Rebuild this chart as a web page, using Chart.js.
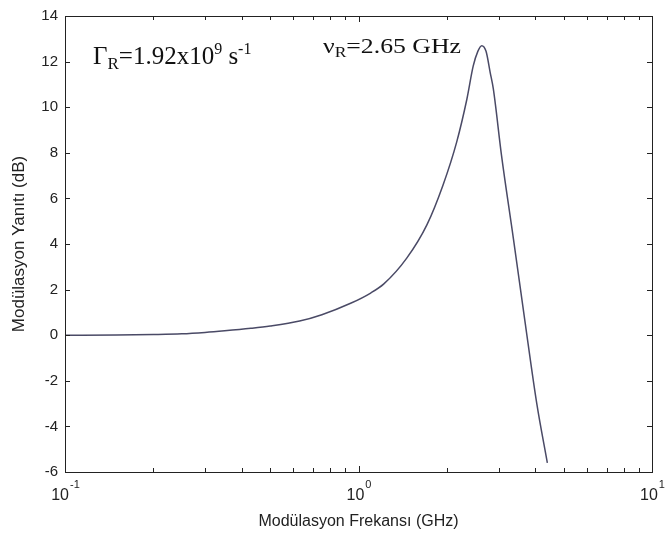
<!DOCTYPE html>
<html>
<head>
<meta charset="utf-8">
<script src="https://cdn.jsdelivr.net/npm/chart.js@4/dist/chart.umd.min.js"></script>
<style>
  html, body { margin: 0; padding: 0; background: #fff; }
  canvas { display: block; }
</style>
</head>
<body>
<canvas id="grafico" width="666" height="538"></canvas>
<script>
// Datos
const frecuenciasGHz = [0.1, 0.15, 0.2, 0.25, 0.3, 0.35, 0.43, 0.5, 0.63, 0.75, 0.94, 1.1, 1.22, 1.46, 1.71, 1.94, 2.16, 2.34, 2.46, 2.55, 2.63, 2.72, 2.81, 2.88, 3.07, 3.37, 3.69, 4.05, 4.4];
const respuestaDb = [0, 0.01, 0.03, 0.06, 0.12, 0.19, 0.3, 0.4, 0.62, 0.9, 1.4, 1.85, 2.25, 3.38, 4.84, 6.58, 8.47, 10.35, 11.81, 12.45, 12.7, 12.45, 11.52, 10.8, 7.9, 4.25, 0.62, -3.0, -5.6];
const ticksY = [-6, -4, -2, 0, 2, 4, 6, 8, 10, 12, 14];
const exponentesX = [-1, 0, 1];
const menoresX = [0.2, 0.3, 0.4, 0.5, 0.6, 0.7, 0.8, 0.9, 2, 3, 4, 5, 6, 7, 8, 9];

const tituloX = 'Modülasyon Frekansı (GHz)';
const tituloY = 'Modülasyon Yanıtı (dB)';

const fuenteEjes = '"Liberation Sans", Arial, sans-serif';
const fuenteSerif = '"Liberation Serif", "Times New Roman", serif';

// Funcion para escribir texto con subindices y superindices
const escribirPartes = (ctx, partes, x, y, escalaX) => {
    ctx.save();
    ctx.translate(x, y);
    ctx.scale(escalaX, 1);
    let cx = 0;
    partes.forEach(p => {
        ctx.font = `${p.size}px ${fuenteSerif}`;
        ctx.fillText(p.t, cx, p.dy || 0);
        cx += ctx.measureText(p.t).width;
    });
    ctx.restore();
}

// Plugin para el marco, las marcas y las anotaciones al estilo MATLAB
const marcoPlugin = {
    id: 'marco',
    afterDraw: (chart) => {
        const ctx = chart.ctx;
        const area = chart.chartArea;
        const ejeX = chart.scales.x;
        const ejeY = chart.scales.y;

        ctx.save();
        ctx.strokeStyle = '#222';
        ctx.lineWidth = 1;
        ctx.strokeRect(area.left + 0.5, area.top + 0.5, area.right - area.left, area.bottom - area.top);

        ctx.beginPath();
        ticksY.forEach(v => {
            const py = Math.round(ejeY.getPixelForValue(v)) + 0.5;
            ctx.moveTo(area.left, py); ctx.lineTo(area.left + 5, py);
            ctx.moveTo(area.right - 5, py); ctx.lineTo(area.right, py);
        });
        exponentesX.forEach(e => {
            const px = Math.round(ejeX.getPixelForValue(Math.pow(10, e))) + 0.5;
            ctx.moveTo(px, area.bottom); ctx.lineTo(px, area.bottom - 6);
            ctx.moveTo(px, area.top); ctx.lineTo(px, area.top + 6);
        });
        menoresX.forEach(v => {
            const px = Math.round(ejeX.getPixelForValue(v)) + 0.5;
            ctx.moveTo(px, area.bottom); ctx.lineTo(px, area.bottom - 4);
            ctx.moveTo(px, area.top); ctx.lineTo(px, area.top + 4);
        });
        ctx.stroke();

        // etiquetas del eje x: 10 con exponente
        ctx.fillStyle = '#222';
        ctx.textBaseline = 'alphabetic';
        ctx.textAlign = 'left';
        exponentesX.forEach(e => {
            const px = ejeX.getPixelForValue(Math.pow(10, e));
            ctx.font = `16px ${fuenteEjes}`;
            const anchoBase = ctx.measureText('10').width;
            ctx.font = `11px ${fuenteEjes}`;
            const anchoExp = ctx.measureText(String(e)).width;
            const x0 = px - (anchoBase + anchoExp) / 2;
            ctx.font = `16px ${fuenteEjes}`;
            ctx.fillText('10', x0, area.bottom + 28);
            ctx.font = `11px ${fuenteEjes}`;
            ctx.fillText(String(e), x0 + anchoBase + 1, area.bottom + 16);
        });

        // anotaciones
        ctx.fillStyle = '#111';
        escribirPartes(ctx, [
            { t: 'Γ', size: 25 },
            { t: 'R', size: 17, dy: 5 },
            { t: '=1.92x10', size: 25 },
            { t: '9', size: 16, dy: -10 },
            { t: ' s', size: 25 },
            { t: '-1', size: 16, dy: -10 }
        ], 93, 64, 1);
        escribirPartes(ctx, [
            { t: 'ν', size: 22 },
            { t: 'R', size: 15, dy: 4 },
            { t: '=2.65 GHz', size: 22 }
        ], 323, 53, 1.17);
        ctx.restore();
    }
};

// Funcion para crear el grafico
const crearGrafico = () => {
    const ctx = document.getElementById('grafico').getContext('2d');
    const puntos = frecuenciasGHz.map((f, i) => ({ x: f, y: respuestaDb[i] }));

    new Chart(ctx, {
        type: 'scatter',
        data: {
            datasets: [{
                data: puntos,
                showLine: true,
                borderColor: '#4a4a66',
                borderWidth: 1.5,
                pointRadius: 0,
                cubicInterpolationMode: 'monotone',
                fill: false
            }]
        },
        options: {
            responsive: false,
            animation: false,
            layout: { padding: { top: 13, right: 14, left: 0, bottom: 0 } },
            plugins: { legend: { display: false }, tooltip: { enabled: false } },
            scales: {
                x: {
                    type: 'logarithmic',
                    min: 0.1,
                    max: 10,
                    grid: { display: false, drawTicks: false },
                    border: { display: false },
                    ticks: { display: false },
                    title: {
                        display: true,
                        text: tituloX,
                        color: '#222',
                        font: { family: fuenteEjes, size: 16 },
                        padding: { top: 0, bottom: 7 }
                    },
                    afterFit: (eje) => { eje.height = 66; }
                },
                y: {
                    min: -6,
                    max: 14,
                    afterBuildTicks: (eje) => { eje.ticks = ticksY.map(v => ({ value: v })); },
                    grid: { display: false, drawTicks: false },
                    border: { display: false },
                    ticks: {
                        color: '#222',
                        font: { family: fuenteEjes, size: 15 },
                        padding: 7
                    },
                    title: {
                        display: true,
                        text: tituloY,
                        color: '#222',
                        font: { family: fuenteEjes, size: 17 },
                        padding: { top: 9, bottom: 0 }
                    },
                    afterFit: (eje) => { eje.width = 65; }
                }
            }
        },
        plugins: [marcoPlugin]
    });
}

crearGrafico();
</script>
</body>
</html>
